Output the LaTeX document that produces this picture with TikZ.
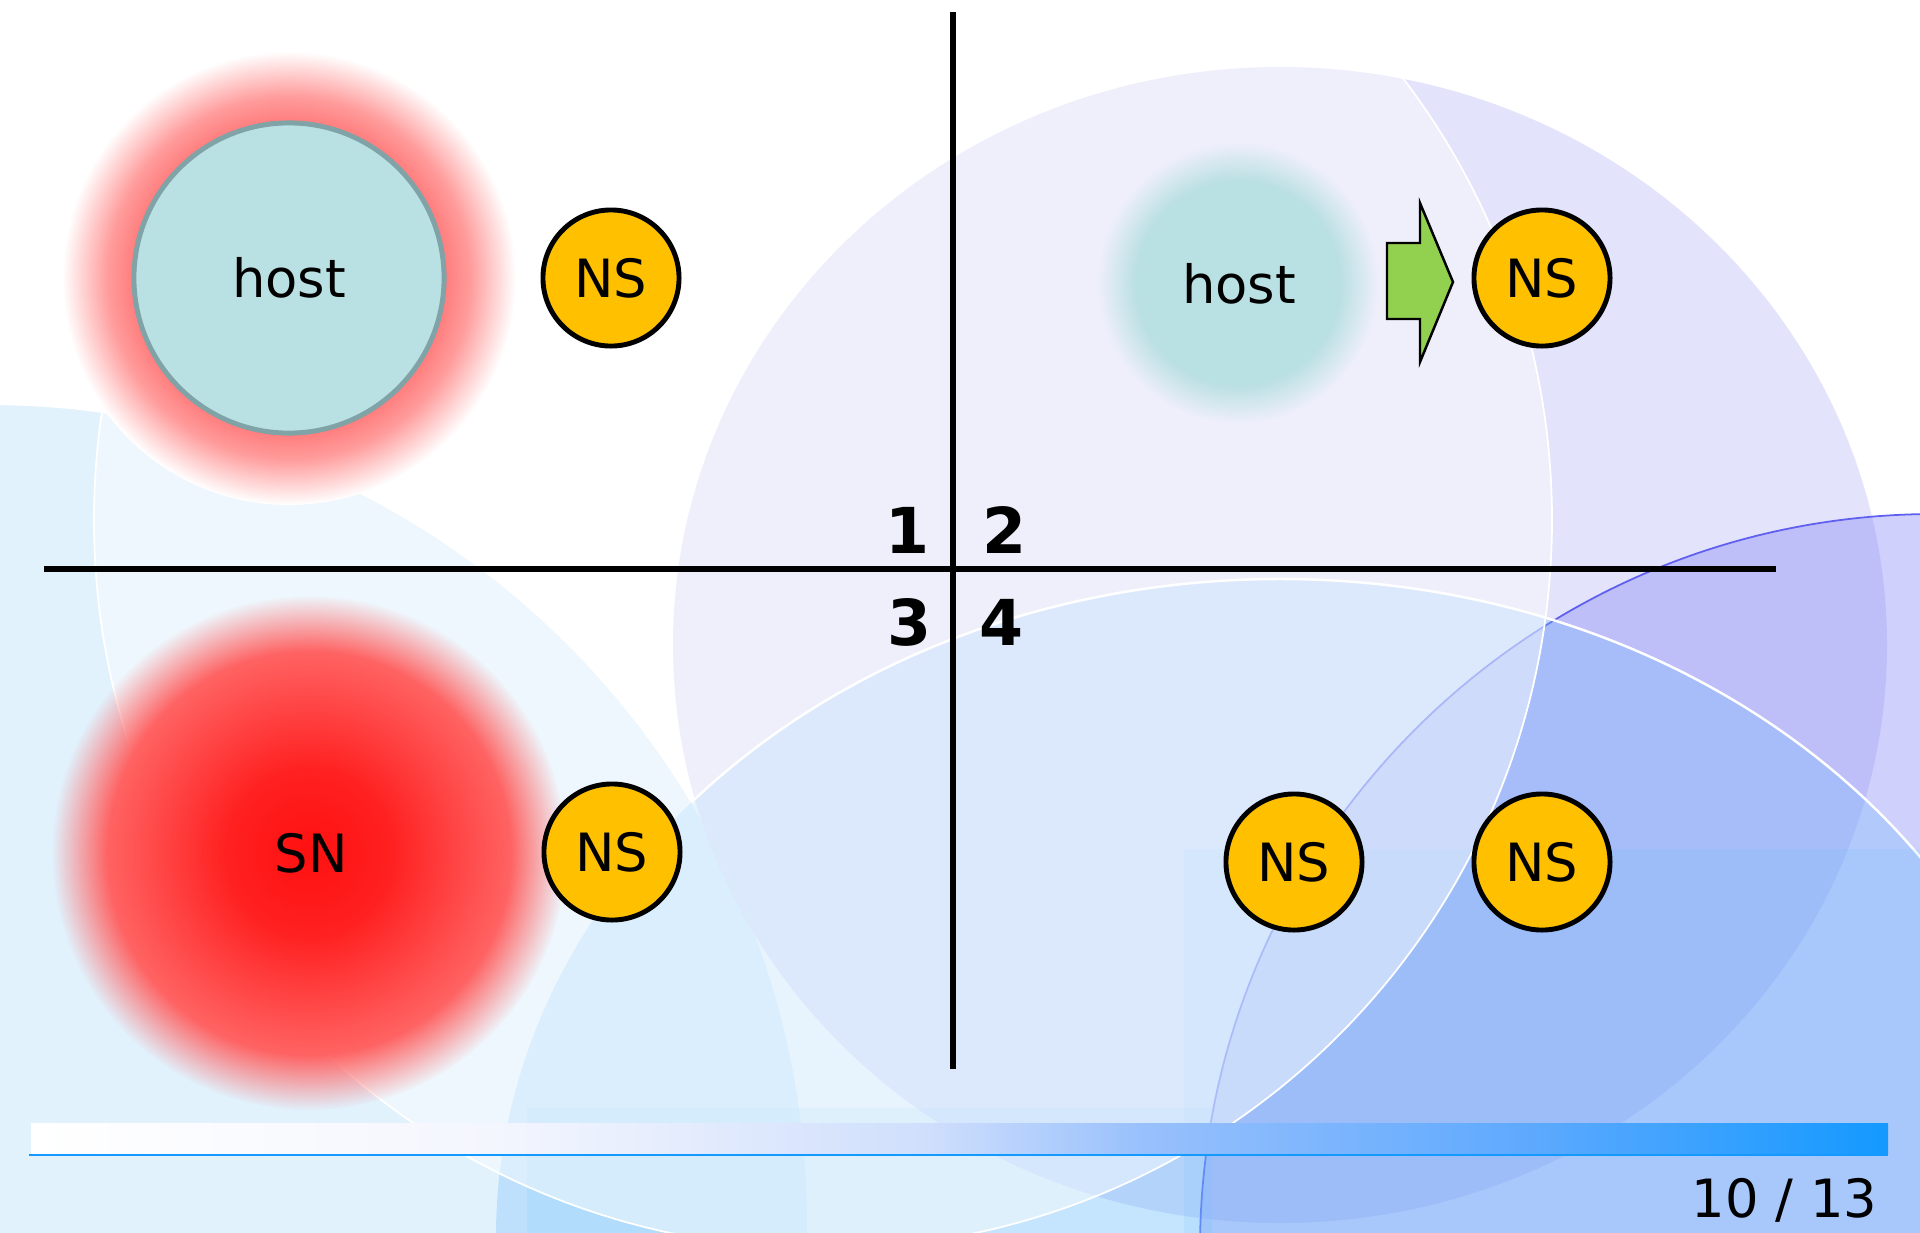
\documentclass[tikz,border=0pt]{standalone}
\usepackage{fontspec}
\setmainfont{DejaVu Sans}
\usepackage{tikz}
\usepackage{xcolor}
\usetikzlibrary{fadings}
\definecolor{BgSky}{HTML}{E1F2FD}
\definecolor{BgLav}{HTML}{E3E3FB}
\definecolor{BgPurple}{HTML}{8080F8}
\definecolor{BgPurpleEdge}{HTML}{6060F0}
\definecolor{BgBlue}{HTML}{72BBFA}
\definecolor{BgTint}{HTML}{60C0FF}
\definecolor{HostTeal}{HTML}{B9E0E2}
\definecolor{HostEdge}{HTML}{7FA3A6}
\definecolor{GlowRed}{HTML}{FF7B7B}
\definecolor{SNCore}{HTML}{FF1010}
\definecolor{SNEdge}{HTML}{FF6262}
\definecolor{NSYellow}{HTML}{FFC000}
\definecolor{ArrowGreen}{HTML}{92D050}
\definecolor{BarA}{HTML}{F4F6FE}
\definecolor{BarB}{HTML}{D0DFFC}
\definecolor{BarC}{HTML}{98C0FC}
\definecolor{BarD}{HTML}{60AAFE}
\definecolor{BarBlue}{HTML}{1499FF}

% glow around the first host, fading into white
\pgfdeclareradialshading{hostglowshade}{\pgfpointorigin}{color(0bp)=(GlowRed); color(17bp)=(GlowRed); color(20bp)=(GlowRed!75!white); color(25bp)=(white); color(50bp)=(white)}
% red super node
\pgfdeclareradialshading{snshade}{\pgfpointorigin}{color(0bp)=(SNCore); color(8bp)=(SNCore!80!SNEdge); color(19.5bp)=(SNEdge); color(50bp)=(SNEdge)}
\pgfdeclareradialshading{snfadeshade}{\pgfpointorigin}{color(0bp)=(pgftransparent!0); color(19.5bp)=(pgftransparent!0); color(25bp)=(pgftransparent!100); color(50bp)=(pgftransparent!100)}
\pgfdeclarefading{snfade}{\pgfuseshading{snfadeshade}}
% blurred second host
\pgfdeclareradialshading{hostblurshade}{\pgfpointorigin}{color(0bp)=(pgftransparent!0); color(18bp)=(pgftransparent!0); color(25bp)=(pgftransparent!100); color(50bp)=(pgftransparent!100)}
\pgfdeclarefading{hostblur}{\pgfuseshading{hostblurshade}}
% progress bar
\pgfdeclarehorizontalshading{barshade}{100bp}{color(0bp)=(white); color(25bp)=(white); color(37.5bp)=(BarA); color(49bp)=(BarB); color(55bp)=(BarC); color(65bp)=(BarD); color(75bp)=(BarBlue); color(100bp)=(BarBlue)}

\tikzset{
    nsnode/.style={circle, fill=NSYellow, draw=black, line width=1.4pt, minimum size=1.36cm, inner sep=0pt, font=\fontsize{15}{18}\selectfont},
    hostnode/.style={circle, fill=HostTeal, draw=HostEdge, line width=1.4pt, minimum size=3.1cm, inner sep=0pt, font=\fontsize{15}{18}\selectfont},
    plaintext/.style={inner sep=0pt, font=\fontsize{15}{18}\selectfont},
    quadlabel/.style={inner sep=0pt, font=\fontsize{18}{21}\selectfont\bfseries}
}

\begin{document}
\begin{tikzpicture}[x=0.01cm, y=-0.01cm]
    \clip (0,0) rectangle (1920,1233);
    \fill[white] (0,0) rectangle (1920,1233);

    % background bubbles
    \filldraw[fill=BgSky, draw=white, line width=0.6pt] (-11,1223) circle (819);
    \fill[BgLav] (1280,645) ellipse (607 and 578);
    \filldraw[fill=BgPurple, fill opacity=0.37, draw=BgPurpleEdge, line width=0.5pt] (1935,1249) circle (735);
    \fill[BgBlue, opacity=0.31] (1280,1237) ellipse (784 and 658);
    \begin{scope}
        \clip (692,0) rectangle (1920,1233);
        \draw[white, line width=0.7pt] (1280,1237) ellipse (784 and 658);
    \end{scope}
    \fill[BgTint, opacity=0.12] (1184,849) rectangle (1920,1233);
    \fill[BgTint, opacity=0.12] (527,1108) rectangle (1212,1233);
    \filldraw[fill=white, fill opacity=0.46, draw=white, line width=0.5pt] (823,520) circle (729);

    % quadrant lines
    \draw[line width=1.7pt] (953,12) -- (953,1069);
    \draw[line width=1.7pt] (44,569) -- (1776,569);
    \node[quadlabel] (q1) at (908,530) {1};
    \node[quadlabel] (q2) at (1005,530) {2};
    \node[quadlabel] (q3) at (910,622) {3};
    \node[quadlabel] (q4) at (1002,622) {4};

    % quadrant 1: host with red glow
    \shade[shading=hostglowshade] (289,278) circle (227);
    \node[hostnode] (host1) at (289,278) {host};
    \node[nsnode] (ns1) at (611,278) {NS};

    % quadrant 2: blurred host moving to NS
    \fill[HostTeal, path fading=hostblur] (1238,283) circle (140);
    \node[plaintext] (host2) at (1239,284) {host};
    \filldraw[fill=ArrowGreen, draw=black, line width=0.7pt] (1387,243) -- (1420,243) -- (1420,203) -- (1453,282) -- (1420,362) -- (1420,319) -- (1387,319) -- cycle;
    \node[nsnode] (ns2) at (1542,278) {NS};

    % quadrant 3: super node
    \shade[shading=snshade, path fading=snfade] (309,853) circle (257);
    \node[plaintext] (sn) at (311,853) {SN};
    \node[nsnode] (ns3) at (612,852) {NS};

    % quadrant 4
    \node[nsnode] (ns4) at (1294,862) {NS};
    \node[nsnode] (ns5) at (1542,862) {NS};

    % progress bar and page number
    \shade[shading=barshade] (31,1123) rectangle (1888,1153);
    \draw[BarBlue, line width=0.6pt] (29,1155) -- (1888,1155);
    \node[plaintext, anchor=base east] (pagenum) at (1878,1217) {10 / 13};
\end{tikzpicture}
\end{document}
